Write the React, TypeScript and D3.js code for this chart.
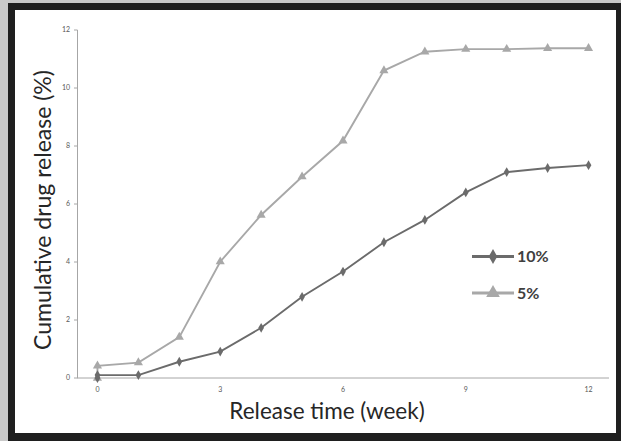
import React from 'react'
import * as d3 from 'd3'

// week 0 is listed twice: the curves start at the origin, then jump to the first reading
const weeks = [0, 0, 1, 2, 3, 4, 5, 6, 7, 8, 9, 10, 11, 12]
const release10 = [0, 0.1, 0.1, 0.56, 0.91, 1.73, 2.8, 3.67, 4.68, 5.45, 6.4, 7.1, 7.24, 7.34]
const release5 = [0, 0.42, 0.53, 1.41, 4.01, 5.62, 6.94, 8.18, 10.6, 11.25, 11.34, 11.34, 11.37, 11.37]
const xTicks = [0, 3, 6, 9, 12]
const yTicks = [0, 2, 4, 6, 8, 10, 12]
const seriesNames = ['10%', '5%']

const W = 621
const H = 441

export default function App() {
  const x = d3.scaleLinear().domain([-0.5, 12.5]).range([77, 609])
  const y = d3.scaleLinear().domain([0, 12]).range([378, 30])

  const line = d3.line<number>()
    .x((d, i) => x(weeks[i]))
    .y(d => y(d))

  const diamond = d3.symbol().type(d3.symbolDiamond).size(28)()
  const triangle = d3.symbol().type(d3.symbolTriangle).size(36)()

  const series = [
    { name: seriesNames[0], values: release10, color: '#6b6b6b', marker: diamond },
    { name: seriesNames[1], values: release5, color: '#a8a8a8', marker: triangle },
  ]

  const font = 'Lato, "Open Sans", sans-serif'

  return (
    <svg width={W} height={H} style={{ position: 'absolute', left: 0, top: 0, display: 'block' }}>
      {/* frame */}
      <rect x={0} y={0} width={W} height={H} fill="#c9c9c9" />
      <rect x={8} y={3} width={W - 8} height={H - 3} fill="#1f1f1f" />
      <rect x={15} y={10} width={601} height={423} fill="#ffffff" />

      {/* axes */}
      <line x1={x.range()[0]} x2={x.range()[1]} y1={y(0)} y2={y(0)} stroke="#a6a6a6" strokeWidth={1} />
      <line x1={77.5} x2={77.5} y1={y(12)} y2={y(0)} stroke="#a6a6a6" strokeWidth={1} />
      {yTicks.map(t => (
        <g key={t}>
          <line x1={74} x2={77.5} y1={y(t)} y2={y(t)} stroke="#a6a6a6" />
          <text x={70} y={y(t)} dy="0.35em" textAnchor="end" fontSize={7} fill="#595959" fontFamily={font}>{t}</text>
        </g>
      ))}
      {xTicks.map(t => (
        <text key={t} x={x(t)} y={392} textAnchor="middle" fontSize={7} fill="#595959" fontFamily={font}>{t}</text>
      ))}

      {/* series */}
      {series.slice().reverse().map(s => (
        <g key={s.name}>
          <path d={line(s.values) || ''} fill="none" stroke={s.color} strokeWidth={1.9} />
          {s.values.map((v, i) => (
            <path key={i} d={s.marker || ''} transform={`translate(${x(weeks[i])},${y(v)})`} fill={s.color} />
          ))}
        </g>
      ))}

      {/* legend */}
      {series.map((s, i) => {
        const ly = 256.5 + i * 36.5
        return (
          <g key={s.name}>
            <line x1={472} x2={514} y1={ly} y2={ly} stroke={s.color} strokeWidth={3} />
            <path d={s.marker || ''} transform={`translate(493,${ly}) scale(1.5)`} fill={s.color} />
            <text x={517} y={ly} dy="0.35em" fontSize={16} fontWeight={700} fill="#404040" fontFamily={font}>{s.name}</text>
          </g>
        )
      })}

      {/* titles */}
      <text x={327} y={419} textAnchor="middle" fontSize={22.5} fill="#262626" fontFamily={font}>Release time (week)</text>
      <text transform="translate(51,210) rotate(-90)" textAnchor="middle" fontSize={23} fill="#262626" fontFamily={font}>Cumulative drug release (%)</text>
    </svg>
  )
}
